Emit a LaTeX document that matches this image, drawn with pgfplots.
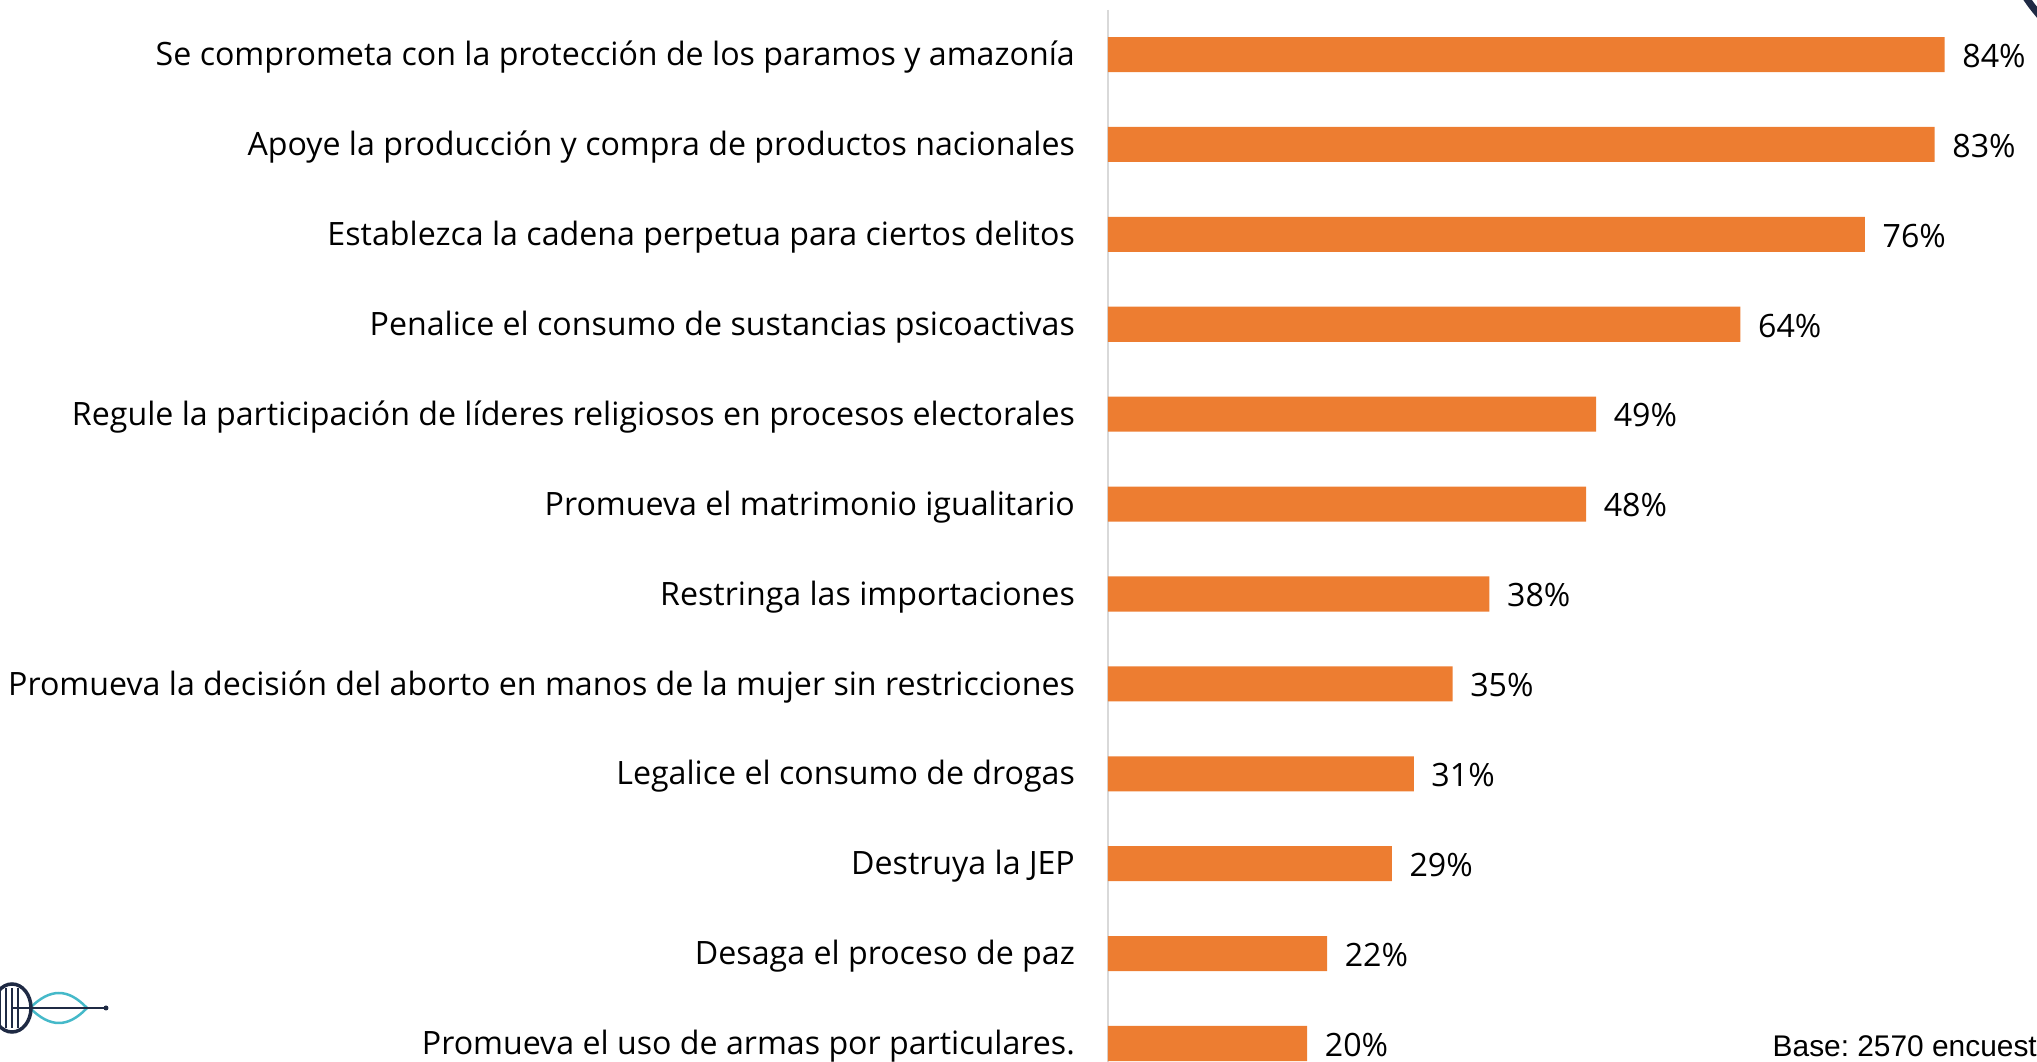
\documentclass[border=0pt]{standalone}
\usepackage{fontspec}
\setmainfont{Open Sans}
\newfontfamily\basefont{Liberation Sans}
\usepackage{pgfplots}
\pgfplotsset{compat=1.18}
\definecolor{barorange}{HTML}{ED7D31}
\definecolor{axisgray}{HTML}{D9D9D9}
\definecolor{logonavy}{HTML}{1F2A44}
\definecolor{logocyan}{HTML}{45B9C9}
\newcommand{\lblfont}{\fontsize{9.15}{11}\selectfont}
\frenchspacing

\begin{document}
\begin{tikzpicture}[x=1cm,y=1cm]
\useasboundingbox (0,0) rectangle (20.37,10.62);
\clip (0,0) rectangle (20.37,10.62);
\begin{axis}[
  at={(11.08cm,0cm)}, anchor=south west,
  scale only axis, width=9.29cm, height=10.62cm,
  xmin=0, xmax=93.27, ymin=-0.607, ymax=11.206,
  y dir=reverse,
  xbar, bar width=0.39,
  axis line style={draw=none},
  xtick=\empty,
  ytick={0,...,11},
  yticklabels={
    Se comprometa con la protección de los paramos y amazonía,
    Apoye la producción y compra de productos nacionales,
    Establezca la cadena perpetua para ciertos delitos,
    Penalice el consumo de sustancias psicoactivas,
    Regule la participación de líderes religiosos en procesos electorales,
    Promueva el matrimonio igualitario,
    Restringa las importaciones,
    Promueva la decisión del aborto en manos de la mujer sin restricciones,
    Legalice el consumo de drogas,
    Destruya la JEP,
    Desaga el proceso de paz,
    Promueva el uso de armas por particulares.},
  major tick length=0pt,
  yticklabel style={anchor=east, inner sep=0pt, xshift=-0.324cm, yshift=-0.027cm, font=\lblfont},
  point meta=explicit symbolic,
  nodes near coords={\pgfplotspointmeta\%},
  nodes near coords style={anchor=west, inner sep=0pt, xshift=0.17cm, yshift=-0.013cm, font=\lblfont},
  clip=false,
]
\draw[axisgray, line width=0.02cm] (axis cs:0,-0.496) -- (axis cs:0,11.4);
\addplot[fill=barorange, draw=none] coordinates {
  (84,0) [84]
  (83,1) [83]
  (76,2) [76]
  (63.5,3) [64]
  (49,4) [49]
  (48,5) [48]
  (38.3,6) [38]
  (34.6,7) [35]
  (30.7,8) [31]
  (28.5,9) [29]
  (22,10) [22]
  (20,11) [20]
};
\end{axis}
% nota de base
\node[anchor=base west, inner sep=0pt, font=\basefont\fontsize{8.5}{10}\selectfont] at (17.72,0.05) {Base: 2570 encuestas};
% logo parcial abajo a la izquierda
\begin{scope}[line width=0.025cm]
  \draw[logocyan] (0.30,0.54) .. controls (0.50,0.74) and (0.68,0.74) .. (0.87,0.54)
                  .. controls (0.68,0.34) and (0.50,0.34) .. (0.30,0.54);
  \draw[logonavy] (0.12,0.54) -- (1.06,0.54);
  \fill[logonavy] (1.06,0.54) circle (0.025);
  \draw[logonavy, line width=0.035cm] (0.12,0.54) ellipse (0.19 and 0.24);
  \foreach \xx in {0.0,0.06,0.12,0.18} \draw[logonavy] (\xx,0.34) -- (\xx,0.74);
\end{scope}
% arco en la esquina superior derecha
\draw[logonavy, line width=0.07cm] (20.25,10.66) .. controls (20.31,10.57) .. (20.40,10.46);
\end{tikzpicture}
\end{document}
